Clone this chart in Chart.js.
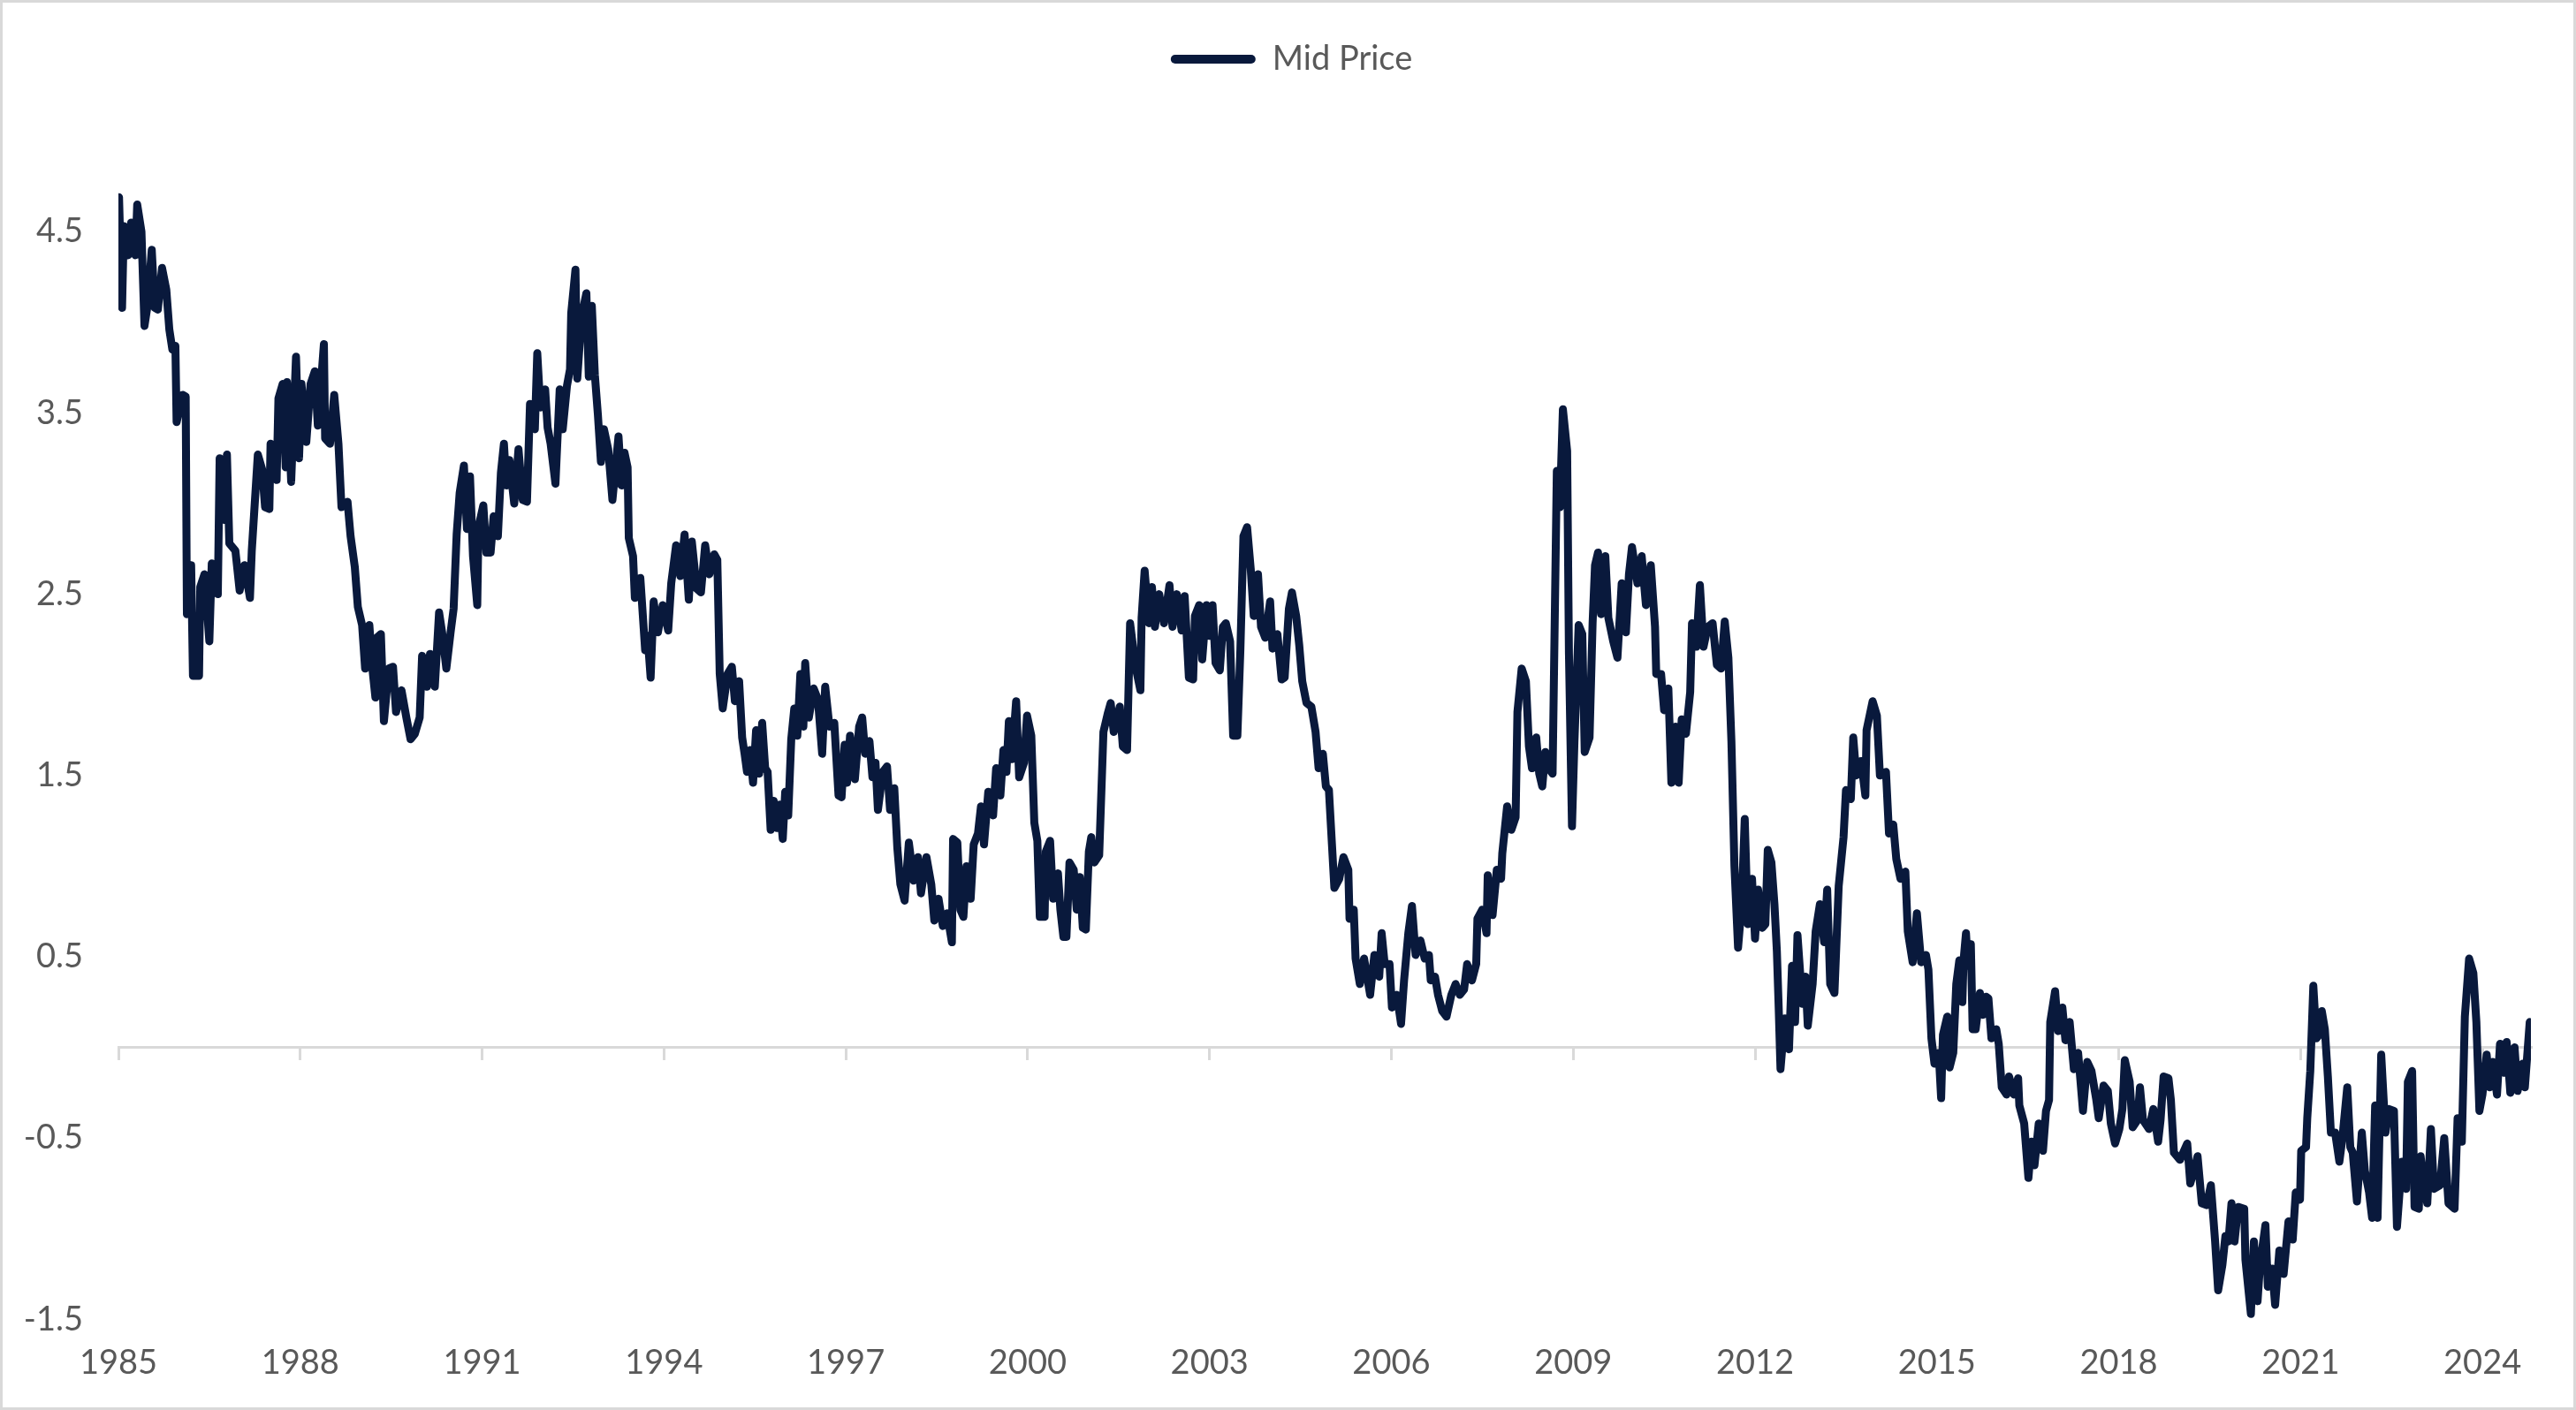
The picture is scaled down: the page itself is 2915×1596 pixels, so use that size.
<!DOCTYPE html>
<html>
<head>
<meta charset="utf-8">
<script src="https://cdn.jsdelivr.net/npm/chart.js@4.4.1/dist/chart.umd.min.js"></script>
<style>
  html, body { margin: 0; padding: 0; background: #fff; }
  #frame { width: 2915px; height: 1596px; box-sizing: border-box; border: 3px solid #d9d9d9; position: relative; }
  #frame canvas { display: block; }
</style>
</head>
<body>
<div id="frame"><canvas id="mid_chart"></canvas></div>
<script>
// decimal year of each reading
var years = [
  1985.01, 1985.06, 1985.09, 1985.16, 1985.21, 1985.28, 1985.31, 1985.38, 1985.43, 1985.48,
  1985.55, 1985.60, 1985.65, 1985.72, 1985.79, 1985.84, 1985.89, 1985.94, 1985.96, 1986.06,
  1986.11, 1986.13, 1986.20, 1986.23, 1986.33, 1986.35, 1986.42, 1986.50, 1986.54, 1986.64,
  1986.67, 1986.74, 1986.79, 1986.83, 1986.93, 1987.00, 1987.08, 1987.17, 1987.20, 1987.30,
  1987.37, 1987.42, 1987.49, 1987.51, 1987.61, 1987.64, 1987.71, 1987.76, 1987.78, 1987.85,
  1987.93, 1987.98, 1988.02, 1988.10, 1988.17, 1988.24, 1988.29, 1988.39, 1988.41, 1988.49,
  1988.56, 1988.63, 1988.68, 1988.78, 1988.83, 1988.90, 1988.95, 1989.02, 1989.07, 1989.14,
  1989.19, 1989.24, 1989.26, 1989.33, 1989.38, 1989.46, 1989.53, 1989.58, 1989.67, 1989.75,
  1989.82, 1989.89, 1989.97, 1990.01, 1990.09, 1990.14, 1990.22, 1990.29, 1990.34, 1990.41,
  1990.48, 1990.53, 1990.58, 1990.63, 1990.70, 1990.75, 1990.80, 1990.85, 1990.92, 1990.94,
  1991.02, 1991.07, 1991.14, 1991.19, 1991.26, 1991.31, 1991.36, 1991.40, 1991.45, 1991.53,
  1991.60, 1991.67, 1991.74, 1991.79, 1991.87, 1991.91, 1991.96, 1992.04, 1992.08, 1992.13,
  1992.21, 1992.28, 1992.33, 1992.40, 1992.45, 1992.47, 1992.54, 1992.57, 1992.64, 1992.72,
  1992.76, 1992.81, 1992.86, 1992.91, 1992.96, 1993.01, 1993.08, 1993.15, 1993.25, 1993.30,
  1993.35, 1993.40, 1993.42, 1993.49, 1993.52, 1993.61, 1993.69, 1993.73, 1993.78, 1993.83,
  1993.90, 1993.98, 1994.07, 1994.12, 1994.20, 1994.27, 1994.34, 1994.41, 1994.46, 1994.54,
  1994.61, 1994.68, 1994.75, 1994.83, 1994.88, 1994.92, 1994.97, 1995.05, 1995.12, 1995.17,
  1995.24, 1995.29, 1995.33, 1995.37, 1995.42, 1995.47, 1995.52, 1995.57, 1995.62, 1995.67,
  1995.71, 1995.76, 1995.81, 1995.86, 1995.91, 1995.96, 1996.00, 1996.05, 1996.10, 1996.15,
  1996.20, 1996.25, 1996.30, 1996.33, 1996.39, 1996.47, 1996.54, 1996.61, 1996.66, 1996.73,
  1996.81, 1996.88, 1996.93, 1996.98, 1997.02, 1997.07, 1997.15, 1997.22, 1997.27, 1997.32,
  1997.39, 1997.44, 1997.49, 1997.53, 1997.61, 1997.68, 1997.73, 1997.80, 1997.85, 1997.90,
  1997.97, 1998.04, 1998.12, 1998.19, 1998.24, 1998.33, 1998.41, 1998.46, 1998.53, 1998.60,
  1998.67, 1998.75, 1998.77, 1998.84, 1998.89, 1998.94, 1998.99, 1999.06, 1999.11, 1999.18,
  1999.23, 1999.28, 1999.35, 1999.43, 1999.48, 1999.55, 1999.60, 1999.65, 1999.69, 1999.74,
  1999.81, 1999.86, 1999.94, 1999.99, 2000.06, 2000.11, 2000.16, 2000.20, 2000.28, 2000.30,
  2000.37, 2000.42, 2000.50, 2000.54, 2000.59, 2000.64, 2000.69, 2000.76, 2000.81, 2000.86,
  2000.91, 2000.96, 2001.01, 2001.05, 2001.10, 2001.18, 2001.25, 2001.32, 2001.37, 2001.42,
  2001.52, 2001.57, 2001.64, 2001.69, 2001.78, 2001.86, 2001.88, 2001.93, 2002.00, 2002.05,
  2002.10, 2002.17, 2002.25, 2002.34, 2002.39, 2002.46, 2002.54, 2002.59, 2002.66, 2002.73,
  2002.76, 2002.83, 2002.88, 2002.95, 2003.00, 2003.05, 2003.10, 2003.17, 2003.22, 2003.27,
  2003.34, 2003.39, 2003.46, 2003.51, 2003.56, 2003.62, 2003.68, 2003.73, 2003.80, 2003.85,
  2003.92, 2004.00, 2004.04, 2004.12, 2004.19, 2004.24, 2004.31, 2004.36, 2004.43, 2004.48,
  2004.53, 2004.60, 2004.68, 2004.75, 2004.80, 2004.87, 2004.92, 2004.97, 2005.02, 2005.06,
  2005.14, 2005.21, 2005.29, 2005.31, 2005.38, 2005.41, 2005.48, 2005.55, 2005.65, 2005.72,
  2005.80, 2005.84, 2005.89, 2005.97, 2006.01, 2006.09, 2006.16, 2006.21, 2006.28, 2006.34,
  2006.40, 2006.48, 2006.55, 2006.62, 2006.65, 2006.72, 2006.77, 2006.84, 2006.91, 2006.99,
  2007.06, 2007.13, 2007.20, 2007.25, 2007.33, 2007.40, 2007.42, 2007.50, 2007.57, 2007.59,
  2007.67, 2007.74, 2007.81, 2007.83, 2007.91, 2007.98, 2008.05, 2008.08, 2008.15, 2008.22,
  2008.27, 2008.32, 2008.39, 2008.44, 2008.49, 2008.54, 2008.59, 2008.66, 2008.73, 2008.78,
  2008.83, 2008.90, 2008.93, 2008.98, 2009.02, 2009.09, 2009.15, 2009.19, 2009.27, 2009.32,
  2009.36, 2009.41, 2009.46, 2009.53, 2009.58, 2009.66, 2009.73, 2009.80, 2009.87, 2009.92,
  2009.97, 2010.06, 2010.13, 2010.20, 2010.28, 2010.35, 2010.37, 2010.45, 2010.50, 2010.57,
  2010.62, 2010.69, 2010.74, 2010.79, 2010.86, 2010.93, 2010.96, 2011.03, 2011.09, 2011.15,
  2011.22, 2011.30, 2011.37, 2011.44, 2011.50, 2011.56, 2011.61, 2011.66, 2011.72, 2011.78,
  2011.83, 2011.88, 2011.95, 2012.00, 2012.05, 2012.12, 2012.17, 2012.21, 2012.27, 2012.32,
  2012.36, 2012.39, 2012.42, 2012.49, 2012.56, 2012.61, 2012.66, 2012.70, 2012.78, 2012.83,
  2012.87, 2012.95, 2013.00, 2013.07, 2013.14, 2013.19, 2013.24, 2013.31, 2013.38, 2013.46,
  2013.50, 2013.58, 2013.62, 2013.67, 2013.75, 2013.82, 2013.84, 2013.94, 2014.01, 2014.06,
  2014.16, 2014.21, 2014.28, 2014.33, 2014.40, 2014.48, 2014.52, 2014.60, 2014.67, 2014.74,
  2014.82, 2014.86, 2014.91, 2014.96, 2015.03, 2015.07, 2015.10, 2015.17, 2015.21, 2015.27,
  2015.32, 2015.37, 2015.42, 2015.44, 2015.48, 2015.51, 2015.56, 2015.59, 2015.64, 2015.71,
  2015.76, 2015.81, 2015.85, 2015.90, 2015.98, 2016.02, 2016.07, 2016.15, 2016.19, 2016.27,
  2016.34, 2016.36, 2016.44, 2016.51, 2016.56, 2016.61, 2016.68, 2016.75, 2016.80, 2016.85,
  2016.87, 2016.95, 2017.00, 2017.07, 2017.12, 2017.19, 2017.26, 2017.33, 2017.41, 2017.48,
  2017.55, 2017.63, 2017.67, 2017.75, 2017.82, 2017.87, 2017.94, 2018.01, 2018.06, 2018.10,
  2018.18, 2018.23, 2018.31, 2018.35, 2018.40, 2018.50, 2018.57, 2018.65, 2018.69, 2018.74,
  2018.82, 2018.86, 2018.91, 2019.01, 2019.13, 2019.18, 2019.25, 2019.30, 2019.37, 2019.45,
  2019.52, 2019.59, 2019.64, 2019.71, 2019.76, 2019.81, 2019.86, 2019.91, 2019.97, 2020.07,
  2020.09, 2020.18, 2020.23, 2020.29, 2020.33, 2020.42, 2020.46, 2020.53, 2020.58, 2020.65,
  2020.72, 2020.80, 2020.87, 2020.92, 2020.99, 2021.01, 2021.09, 2021.11, 2021.16, 2021.21,
  2021.26, 2021.31, 2021.35, 2021.40, 2021.45, 2021.50, 2021.57, 2021.64, 2021.69, 2021.77,
  2021.82, 2021.86, 2021.93, 2022.01, 2022.06, 2022.13, 2022.18, 2022.23, 2022.27, 2022.33,
  2022.40, 2022.46, 2022.54, 2022.59, 2022.67, 2022.74, 2022.77, 2022.84, 2022.88, 2022.95,
  2022.98, 2023.03, 2023.09, 2023.15, 2023.20, 2023.30, 2023.37, 2023.44, 2023.54, 2023.59,
  2023.66, 2023.71, 2023.78, 2023.85, 2023.90, 2023.95, 2024.00, 2024.07, 2024.12, 2024.17,
  2024.24, 2024.29, 2024.36, 2024.40, 2024.46, 2024.53, 2024.58, 2024.66, 2024.70, 2024.78
];

var midPrice = [
  4.69, 4.08, 4.53, 4.37, 4.55, 4.37, 4.65, 4.50, 3.98, 4.09,
  4.40, 4.08, 4.07, 4.30, 4.18, 3.96, 3.85, 3.87, 3.45, 3.60,
  3.59, 2.39, 2.66, 2.05, 2.05, 2.54, 2.61, 2.24, 2.67, 2.50,
  3.25, 2.91, 3.27, 2.78, 2.74, 2.52, 2.66, 2.48, 2.74, 3.27,
  3.19, 2.98, 2.97, 3.33, 3.13, 3.58, 3.66, 3.20, 3.67, 3.12,
  3.81, 3.25, 3.66, 3.34, 3.66, 3.73, 3.43, 3.88, 3.36, 3.33,
  3.60, 3.33, 2.98, 3.01, 2.82, 2.65, 2.43, 2.33, 2.09, 2.33,
  2.09, 1.93, 2.26, 2.28, 1.80, 2.09, 2.10, 1.85, 1.97, 1.82,
  1.70, 1.73, 1.82, 2.16, 1.99, 2.17, 1.99, 2.40, 2.29, 2.09,
  2.29, 2.42, 2.83, 3.06, 3.21, 2.86, 3.15, 2.71, 2.44, 2.87,
  2.99, 2.73, 2.73, 2.93, 2.82, 3.17, 3.33, 3.10, 3.24, 3.00,
  3.30, 3.02, 3.01, 3.55, 3.41, 3.83, 3.53, 3.63, 3.42, 3.33,
  3.11, 3.63, 3.41, 3.65, 3.74, 4.05, 4.29, 3.69, 4.03, 4.16,
  3.70, 4.09, 3.71, 3.49, 3.23, 3.41, 3.30, 3.02, 3.37, 3.10,
  3.28, 3.20, 2.81, 2.71, 2.48, 2.59, 2.19, 2.27, 2.04, 2.46,
  2.29, 2.44, 2.30, 2.56, 2.77, 2.60, 2.83, 2.47, 2.79, 2.53,
  2.51, 2.77, 2.61, 2.72, 2.69, 2.06, 1.87, 2.06, 2.10, 1.91,
  2.02, 1.71, 1.62, 1.52, 1.64, 1.46, 1.75, 1.51, 1.79, 1.54,
  1.52, 1.20, 1.36, 1.21, 1.34, 1.15, 1.41, 1.28, 1.70, 1.87,
  1.72, 2.06, 1.77, 2.12, 1.82, 1.98, 1.92, 1.62, 1.99, 1.77,
  1.79, 1.39, 1.38, 1.67, 1.46, 1.72, 1.48, 1.77, 1.82, 1.62,
  1.69, 1.49, 1.57, 1.31, 1.52, 1.55, 1.31, 1.43, 1.10, 0.90,
  0.81, 1.13, 0.92, 1.05, 0.85, 1.05, 0.90, 0.70, 0.82, 0.67,
  0.74, 0.58, 1.15, 1.13, 0.76, 0.72, 1.00, 0.82, 1.12, 1.18,
  1.33, 1.12, 1.41, 1.28, 1.54, 1.39, 1.64, 1.52, 1.80, 1.59,
  1.91, 1.49, 1.57, 1.83, 1.72, 1.24, 1.14, 0.72, 0.72, 1.08,
  1.14, 0.82, 0.96, 0.76, 0.61, 0.61, 1.02, 0.98, 0.76, 0.94,
  0.66, 0.65, 1.08, 1.16, 1.02, 1.06, 1.74, 1.84, 1.90, 1.74,
  1.88, 1.66, 1.64, 2.34, 2.10, 1.97, 2.37, 2.63, 2.34, 2.54,
  2.32, 2.50, 2.34, 2.55, 2.32, 2.50, 2.30, 2.49, 2.04, 2.03,
  2.38, 2.44, 2.14, 2.44, 2.27, 2.44, 2.12, 2.08, 2.32, 2.34,
  2.24, 1.72, 1.72, 2.20, 2.82, 2.87, 2.64, 2.38, 2.61, 2.32,
  2.26, 2.46, 2.20, 2.28, 2.03, 2.04, 2.42, 2.51, 2.38, 2.22,
  2.02, 1.90, 1.88, 1.74, 1.54, 1.62, 1.44, 1.42, 1.12, 0.88,
  0.93, 1.05, 0.98, 0.71, 0.76, 0.49, 0.35, 0.49, 0.29, 0.51,
  0.39, 0.63, 0.46, 0.46, 0.22, 0.29, 0.13, 0.37, 0.63, 0.78,
  0.51, 0.59, 0.49, 0.51, 0.37, 0.39, 0.29, 0.20, 0.17, 0.29,
  0.35, 0.29, 0.32, 0.46, 0.37, 0.46, 0.71, 0.76, 0.63, 0.95,
  0.73, 0.98, 0.93, 1.07, 1.33, 1.20, 1.27, 1.85, 2.09, 2.02,
  1.66, 1.54, 1.71, 1.51, 1.44, 1.63, 1.54, 1.51, 3.18, 2.98,
  3.52, 3.29, 2.17, 1.22, 1.68, 2.33, 2.28, 1.63, 1.71, 2.34,
  2.66, 2.73, 2.39, 2.71, 2.37, 2.24, 2.15, 2.56, 2.29, 2.61,
  2.76, 2.56, 2.71, 2.44, 2.66, 2.32, 2.06, 2.06, 1.86, 1.98,
  1.46, 1.77, 1.46, 1.81, 1.73, 1.96, 2.34, 2.21, 2.55, 2.21,
  2.32, 2.34, 2.11, 2.09, 2.35, 2.15, 1.69, 1.00, 0.55, 0.79,
  1.26, 0.68, 0.93, 0.60, 0.87, 0.66, 0.68, 1.09, 1.02, 0.79,
  0.53, 0.22, -0.12, 0.16, -0.01, 0.45, 0.14, 0.62, 0.24, 0.39,
  0.12, 0.35, 0.64, 0.79, 0.58, 0.87, 0.35, 0.30, 0.89, 1.16,
  1.42, 1.37, 1.71, 1.50, 1.58, 1.39, 1.75, 1.91, 1.83, 1.50,
  1.52, 1.18, 1.23, 1.04, 0.93, 0.97, 0.64, 0.47, 0.74, 0.47,
  0.51, 0.43, 0.05, -0.09, -0.03, -0.28, 0.07, 0.17, -0.11, -0.03,
  0.35, 0.48, 0.25, 0.48, 0.63, 0.45, 0.57, 0.10, 0.10, 0.30,
  0.18, 0.28, 0.27, 0.05, 0.10, 0.02, -0.22, -0.26, -0.16, -0.26,
  -0.17, -0.32, -0.42, -0.72, -0.52, -0.65, -0.42, -0.57, -0.35, -0.29,
  0.14, 0.31, 0.09, 0.22, 0.04, 0.14, -0.12, -0.03, -0.35, -0.08,
  -0.13, -0.29, -0.39, -0.21, -0.24, -0.42, -0.53, -0.45, -0.34, -0.07,
  -0.19, -0.44, -0.40, -0.22, -0.40, -0.45, -0.34, -0.52, -0.40, -0.16,
  -0.17, -0.29, -0.58, -0.62, -0.53, -0.75, -0.67, -0.60, -0.86, -0.87,
  -0.76, -1.07, -1.34, -1.20, -1.04, -1.07, -0.86, -1.07, -0.88, -0.89,
  -1.17, -1.47, -1.07, -1.40, -1.20, -0.98, -1.32, -1.22, -1.42, -1.12,
  -1.25, -0.96, -1.06, -0.80, -0.84, -0.57, -0.55, -0.39, -0.13, 0.34,
  0.05, 0.07, 0.20, 0.10, -0.16, -0.47, -0.47, -0.63, -0.50, -0.22,
  -0.55, -0.58, -0.85, -0.47, -0.68, -0.80, -0.94, -0.32, -0.94, -0.04,
  -0.47, -0.34, -0.35, -0.99, -0.63, -0.78, -0.19, -0.13, -0.88, -0.89,
  -0.60, -0.75, -0.86, -0.45, -0.78, -0.76, -0.50, -0.86, -0.89, -0.39,
  -0.52, 0.17, 0.49, 0.41, 0.14, -0.35, -0.26, -0.04, -0.22, -0.08,
  -0.26, 0.02, -0.14, 0.03, -0.25, 0.00, -0.24, -0.09, -0.22, 0.14
];

var yearTicks = [1985, 1988, 1991, 1994, 1997, 2000, 2003, 2006, 2009, 2012, 2015, 2018, 2021, 2024];
var valueTicks = [-1.5, -0.5, 0.5, 1.5, 2.5, 3.5, 4.5];
var seriesName = 'Mid Price';

var navy = '#09193c';
var labelGrey = '#595959';
var axisGrey = '#d9d9d9';
var tickFont = { family: 'Lato, "Open Sans", sans-serif', size: 38 };

var points = years.map(function(y, i) { return { x: y, y: midPrice[i] }; });

function setTicks(list) {
    return function(scale) {
        scale.ticks = list.map(function(v) { return { value: v }; });
    };
}

// the legend sits a little right of the canvas centre in the original
var legendNudge = {
    id: 'legendNudge',
    afterLayout: function(chart) {
        chart.legend.left += 28;
        chart.legend.right += 28;
    }
};

var config = {
    type: 'line',
    data: {
        datasets: [{
            label: seriesName,
            data: points,
            borderColor: navy,
            backgroundColor: navy,
            borderWidth: 9,
            borderJoinStyle: 'round',
            borderCapStyle: 'round',
            pointRadius: 0,
            tension: 0,
            fill: false
        }]
    },
    options: {
        responsive: true,
        maintainAspectRatio: false,
        animation: false,
        devicePixelRatio: 1,
        layout: { padding: { top: 33, right: 48, bottom: 0, left: 0 } },
        plugins: {
            tooltip: { enabled: false },
            legend: {
                position: 'top',
                labels: {
                    color: labelGrey,
                    font: tickFont,
                    boxWidth: 96,
                    boxHeight: 10,
                    padding: 12,
                    generateLabels: function(chart) {
                        return [{
                            text: seriesName,
                            fillStyle: navy,
                            strokeStyle: navy,
                            lineWidth: 0,
                            borderRadius: 5,
                            fontColor: labelGrey,
                            hidden: false,
                            datasetIndex: 0
                        }];
                    }
                }
            }
        },
        scales: {
            x: {
                type: 'linear',
                position: 'bottom',
                min: 1985,
                max: 2024.8,
                afterBuildTicks: setTicks(yearTicks),
                grid: { display: false, drawTicks: false },
                border: { display: false },
                ticks: {
                    color: labelGrey,
                    font: tickFont,
                    padding: 27,
                    maxRotation: 0,
                    autoSkip: false,
                    callback: function(v) { return String(v); }
                }
            },
            xZero: {
                type: 'linear',
                axis: 'x',
                position: { y: 0 },
                min: 1985,
                max: 2024.8,
                afterBuildTicks: setTicks(yearTicks),
                afterFit: function(scale) { scale.height = 0; },
                grid: { drawOnChartArea: false, drawTicks: true, tickLength: 13, color: axisGrey, lineWidth: 3 },
                border: { display: true, color: axisGrey, width: 3 },
                ticks: { display: false }
            },
            y: {
                type: 'linear',
                min: -1.5,
                max: 5.31,
                afterBuildTicks: setTicks(valueTicks),
                afterFit: function(scale) { scale.width = 131; },
                grid: { display: false, drawTicks: false },
                border: { display: false },
                ticks: {
                    color: labelGrey,
                    font: tickFont,
                    padding: 40,
                    callback: function(v) { return v.toFixed(1); }
                }
            }
        }
    },
    plugins: [legendNudge]
};

var frame = document.getElementById('frame');
var canvas = document.getElementById('mid_chart');
canvas.style.width = (frame.clientWidth) + 'px';
canvas.style.height = (frame.clientHeight) + 'px';
new Chart(canvas.getContext('2d'), config);
</script>
</body>
</html>
